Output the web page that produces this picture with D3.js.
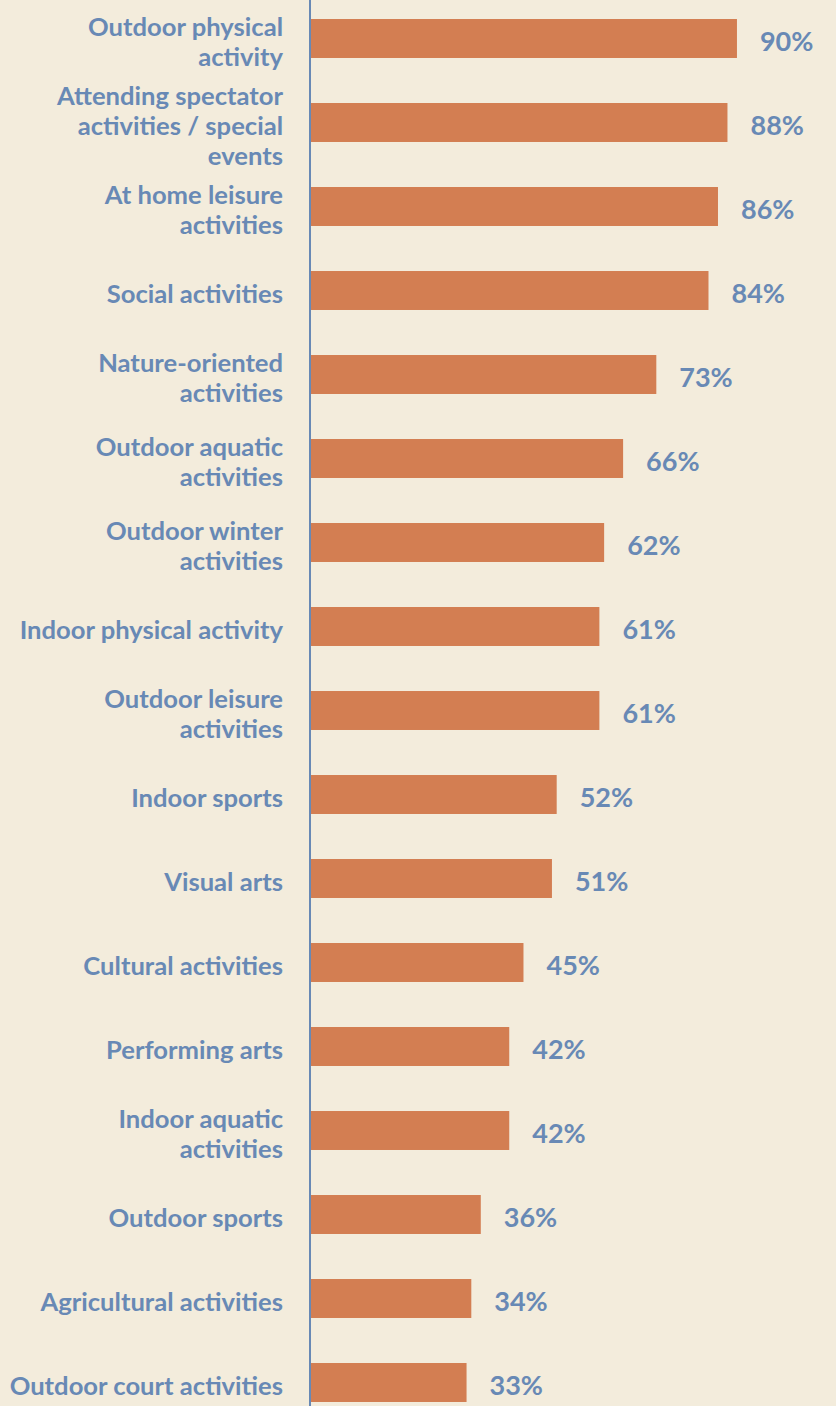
<!DOCTYPE html>
<html>
<head>
<meta charset="utf-8">
<script src="https://cdnjs.cloudflare.com/ajax/libs/d3/7.8.5/d3.min.js"></script>
<style>
body{margin:0;background:#f3ecdc;}
svg{display:block;}
</style>
</head>
<body>
<div id="wrapper"></div>
<script>
let width = 836;
let height = 1406;

let categories = [
  "Outdoor physical\nactivity",
  "Attending spectator\nactivities / special\nevents",
  "At home leisure\nactivities",
  "Social activities",
  "Nature-oriented\nactivities",
  "Outdoor aquatic\nactivities",
  "Outdoor winter\nactivities",
  "Indoor physical activity",
  "Outdoor leisure\nactivities",
  "Indoor sports",
  "Visual arts",
  "Cultural activities",
  "Performing arts",
  "Indoor aquatic\nactivities",
  "Outdoor sports",
  "Agricultural activities",
  "Outdoor court activities"
];
let values = [90, 88, 86, 84, 73, 66, 62, 61, 61, 52, 51, 45, 42, 42, 36, 34, 33];

let barColor = "#d37e52";
let textColor = "#6889b5";
let fontFam = "Lato, 'Open Sans', sans-serif";

let svg = d3.select("#wrapper")
.append("svg")
.attr("width", width)
.attr("height", height)
.style("background", "#f3ecdc");

let x = d3.scaleLinear()
.domain([0, 100])
.range([310, 784.4]);

let y = d3.scaleBand()
.domain(categories)
.range([-3.5, 1424.5])
.paddingInner(0.536)
.paddingOuter(0.268);

let bw = y.bandwidth();

svg.selectAll(".bar")
.data(categories)
.enter()
.append("rect")
.attr("class", "bar")
.attr("x", x(0))
.attr("y", d => y(d))
.attr("width", (d, i) => x(values[i]) - x(0))
.attr("height", bw)
.style("fill", barColor);

// axis line
svg.append("line")
.attr("x1", x(0)).attr("x2", x(0))
.attr("y1", 0).attr("y2", height)
.style("stroke", textColor)
.style("stroke-width", 2);

svg.selectAll(".lab")
.data(categories)
.enter()
.append("text")
.attr("class", "lab")
.attr("text-anchor", "end")
.attr("transform", d => `translate(${x(0) - 27},${y(d) + bw / 2})`)
.style("font", `700 25.6px ${fontFam}`)
.style("fill", textColor)
.each(function(d) {
  let lines = d.split("\n");
  let t = d3.select(this);
  lines.forEach((ln, j) => {
    t.append("tspan")
    .attr("x", 0)
    .attr("y", 12.5 + (j - (lines.length - 1) / 2) * 30)
    .text(ln);
  });
});

svg.selectAll(".val")
.data(categories)
.enter()
.append("text")
.attr("class", "val")
.attr("x", (d, i) => x(values[i]) + 23)
.attr("y", d => y(d) + bw / 2 + 12.5)
.style("font", `700 27px ${fontFam}`)
.style("fill", textColor)
.text((d, i) => values[i] + "%");
</script>
</body>
</html>
